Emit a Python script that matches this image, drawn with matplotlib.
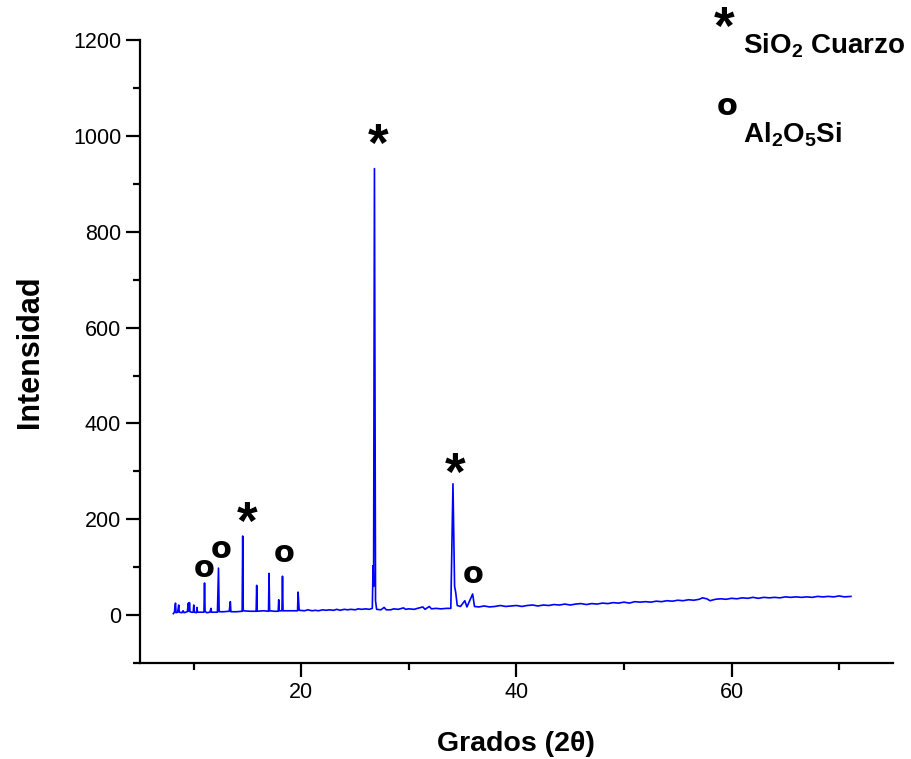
import matplotlib.pyplot as plt
from matplotlib.ticker import MultipleLocator

plt.rcParams['font.family'] = 'Liberation Sans'
plt.rcParams['mathtext.fontset'] = 'custom'
plt.rcParams['mathtext.rm'] = 'Liberation Sans:bold'
plt.rcParams['mathtext.it'] = 'Liberation Sans:bold'

# XRD trace (2theta, counts)
two_theta = [8.1, 8.2, 8.3, 8.35, 8.5, 8.6, 8.65, 8.9, 9.0, 9.1, 9.4, 9.5, 9.55, 9.6, 9.65,
             9.8, 9.95, 10.0, 10.05, 10.25, 10.3, 10.35, 10.7, 10.95, 11.0, 11.05, 11.2, 11.5,
             11.6, 11.65, 12.2, 12.3, 12.36, 12.8, 13.3, 13.4, 13.45, 14.0, 14.5, 14.55, 14.6,
             15.2, 15.8, 15.85, 15.9, 16.5, 16.95, 17.0, 17.05, 17.5, 17.85, 17.9, 17.95, 18.2,
             18.25, 18.3, 19.0, 19.65, 19.7, 19.8,
             20.3, 20.6, 21.0, 21.3, 21.6, 22.0, 22.3, 22.6, 23.0, 23.3, 23.6, 24.0, 24.3, 24.6,
             25.0, 25.3, 25.6, 26.0, 26.3, 26.6, 26.67, 26.72, 26.8, 26.9, 27.0, 27.4,
             27.7, 27.9, 28.3, 28.6, 29.0, 29.5, 29.7, 30.0, 30.5, 30.8, 31.3, 31.5, 31.9, 32.1,
             32.5, 33.0, 33.5, 33.9, 34.1, 34.25, 34.35, 34.5, 34.8, 35.2, 35.4, 35.93, 36.1,
             36.5, 37.0, 37.5, 38.0, 38.5, 39.0, 39.5, 40.0, 40.5, 41.0, 41.5, 42.0, 42.5, 43.0,
             43.5, 44.0, 44.5, 45.0, 45.5, 46.0, 46.5, 47.0, 47.5, 48.0, 48.5, 49.0, 49.5, 50.0,
             50.5, 51.0, 51.5, 52.0, 52.5, 53.0, 53.5, 54.0, 54.5, 55.0, 55.5, 56.0, 56.5, 57.0,
             57.3, 57.7, 58.0, 58.5, 59.0, 59.5, 60.0, 60.5, 61.0, 61.5, 62.0, 62.5, 63.0, 63.5,
             64.0, 64.5, 65.0, 65.5, 66.0, 66.5, 67.0, 67.5, 68.0, 68.5, 69.0, 69.5, 70.0, 70.5,
             71.1]
counts = [3, 6, 25, 5, 6, 21, 6, 5, 9, 5, 7, 25, 8, 26, 7,
          6, 6, 21, 6, 5, 16, 6, 6, 6, 67, 8, 5, 6,
          14, 6, 6, 98, 7, 7, 8, 28, 7, 7, 8, 165, 9,
          8, 8, 62, 8, 9, 8, 87, 9, 8, 8, 32, 9, 9,
          81, 9, 9, 9, 48, 10,
          9, 11, 9, 10, 9, 11, 10, 11, 10, 12, 10, 12, 11, 12,
          11, 13, 12, 13, 12, 14, 103, 60, 932, 30, 12, 11,
          16, 11, 11, 13, 12, 15, 12, 13, 12, 14, 17, 12, 18, 13,
          14, 13, 14, 14, 274, 60, 48, 20, 18, 30, 17, 44, 18,
          17, 19, 17, 18, 20, 18, 19, 20, 18, 20, 21, 19, 21, 20,
          22, 21, 23, 21, 23, 24, 22, 24, 23, 25, 24, 26, 25, 27,
          25, 28, 27, 28, 27, 29, 28, 30, 29, 31, 30, 32, 31, 33,
          36, 34, 30, 33, 34, 33, 35, 34, 36, 35, 37, 35, 37, 36,
          37, 36, 38, 37, 38, 37, 38, 37, 39, 38, 39, 38, 40, 38,
          39]

# phase markers: (2theta, intensity) where the symbol sits
quartz_x = [14.95, 27.1, 34.3]
quartz_y = [188, 978, 290]
silicate_x = [11.0, 12.55, 18.42, 36.0]
silicate_y = [98, 137, 129, 85]

fig = plt.figure(figsize=(9.12, 7.59), dpi=100)
ax = fig.add_axes([0.1535, 0.1265, 0.8255, 0.8205])

ax.plot(two_theta, counts, color='#0000ff', lw=1.2)

for x, y in zip(quartz_x, quartz_y):
    ax.text(x, y, '*', fontsize=38, fontweight='bold', ha='center', va='center')
for x, y in zip(silicate_x, silicate_y):
    ax.text(x, y, 'o', fontsize=22, fontweight='bold', family='DejaVu Sans',
            ha='center', va='center')

# key in the top right corner
ax.text(59.3, 1222, '*', fontsize=38, fontweight='bold', ha='center', va='center', clip_on=False)
ax.text(61.1, 1188, r'SiO$_2$ Cuarzo', fontsize=20, fontweight='bold', va='center', clip_on=False)
ax.text(59.6, 1062, 'o', fontsize=22, fontweight='bold', family='DejaVu Sans',
        ha='center', va='center', clip_on=False)
ax.text(61.1, 1002, r'Al$_2$O$_5$Si', fontsize=20, fontweight='bold', va='center', clip_on=False)

ax.set_xlim(5, 75)
ax.set_ylim(-100, 1200)
ax.xaxis.set_major_locator(MultipleLocator(20))
ax.xaxis.set_minor_locator(MultipleLocator(10))
ax.yaxis.set_major_locator(MultipleLocator(200))
ax.yaxis.set_minor_locator(MultipleLocator(100))

for s in ['top', 'right']:
    ax.spines[s].set_visible(False)
for s in ['left', 'bottom']:
    ax.spines[s].set_linewidth(1.6)
ax.tick_params(which='major', length=10, width=1.6, labelsize=15.5)
ax.tick_params(which='minor', length=5, width=1.6)

ax.set_xlabel('Grados (2θ)', fontsize=20.5, fontweight='bold', labelpad=20)
ax.set_ylabel('Intensidad', fontsize=22, fontweight='bold', labelpad=20)

fig.savefig('out.png', dpi=100)
